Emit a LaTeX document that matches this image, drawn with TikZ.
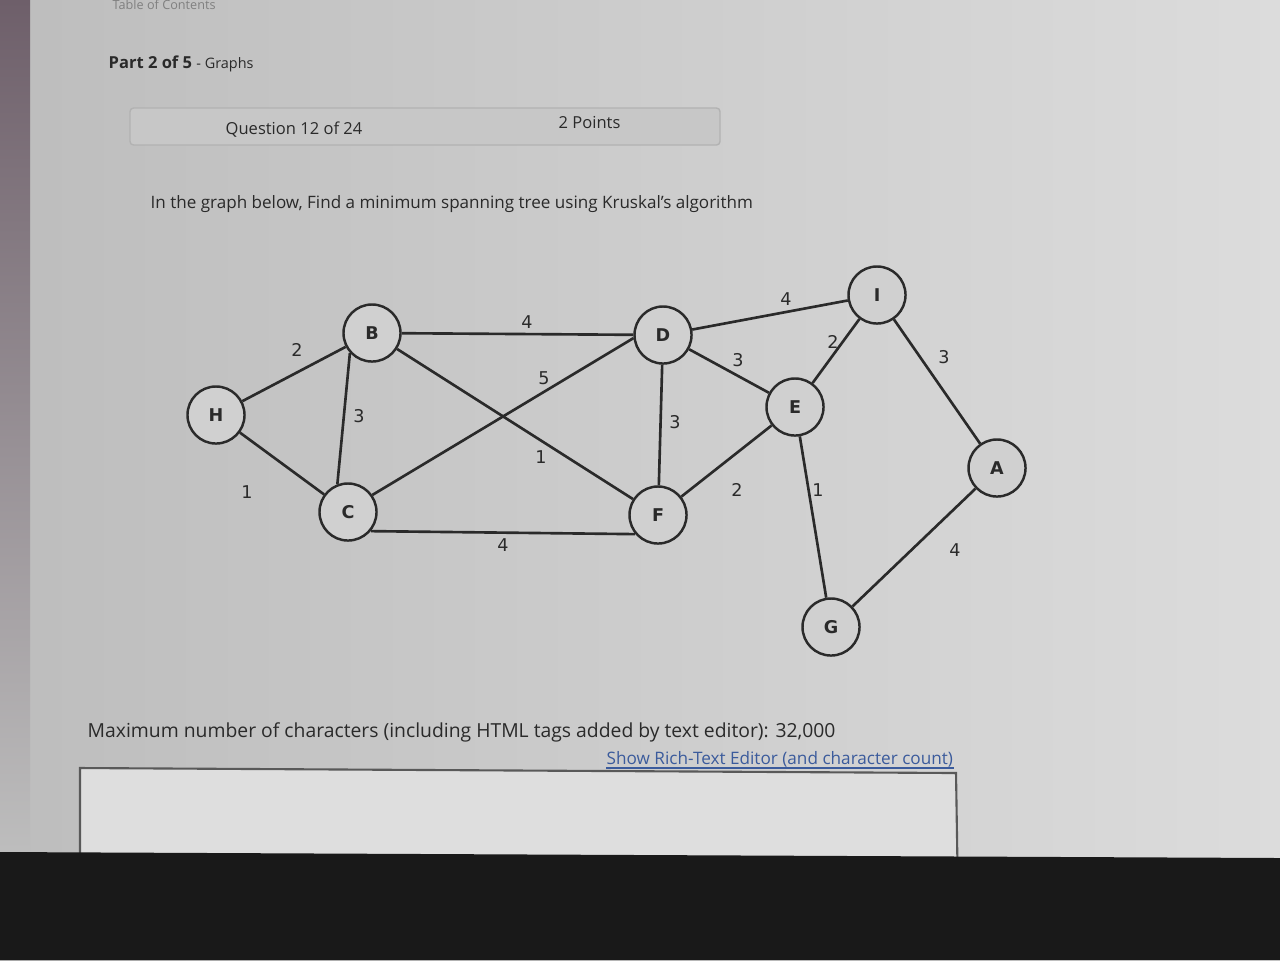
\documentclass[tikz,border=0pt]{standalone}
\usepackage{fontspec}
\setmainfont{Open Sans}
\newfontfamily\graphfont{DejaVu Sans}
\definecolor{screenL}{HTML}{BDBDBD}
\definecolor{screenR}{HTML}{DCDCDC}
\definecolor{screen}{HTML}{D0D0D0}
\definecolor{ink}{HTML}{2A2A2A}
\definecolor{linkblue}{HTML}{3B5B9C}
\definecolor{cloth}{HTML}{6E5F6A}
\tikzset{
  vertex/.style={circle,draw=ink,line width=0.7pt,fill=screen,minimum size=5.7mm,inner sep=0pt,
    font=\graphfont\bfseries\fontsize{5}{6}\selectfont,text=ink},
  weight/.style={font=\graphfont\fontsize{5}{6}\selectfont,inner sep=0pt,text=ink},
  edge/.style={draw=ink,line width=0.75pt},
  pagetext/.style={anchor=base west,inner sep=0pt,text=ink}
}
\begin{document}
\begin{tikzpicture}[x=0.01cm,y=-0.01cm]
    \useasboundingbox (0,0) rectangle (1280,960);
    % screen background
    \shade[left color=screenL,right color=screenR] (0,0) rectangle (1280,960);
    \shade[top color=cloth,bottom color=screenL] (0,0) rectangle (30,850);
    % header
    \node[pagetext,text=gray,font=\fontsize{3.6}{4}\selectfont] (toc) at (112,9) {Table of Contents};
    \node[pagetext,font=\fontsize{4.7}{5}\selectfont] (part) at (108,68)
        {\textbf{Part 2 of 5} {\fontsize{4.1}{4}\selectfont - Graphs}};
    \draw[fill=black!22,draw=black!30,rounded corners=1pt] (130,108) rectangle (720,145);
    \node[pagetext,font=\fontsize{4.7}{5}\selectfont] (qnum) at (225,134) {Question 12 of 24};
    \node[pagetext,font=\fontsize{4.7}{5}\selectfont] (pts) at (558,128) {2 Points};
    \node[pagetext,font=\fontsize{4.85}{5}\selectfont] (task) at (150,208)
        {In the graph below, Find a minimum spanning tree using Kruskal's algorithm};
    % vertices
    \node[vertex] (h) at (216,415) {H};
    \node[vertex] (b) at (372,333) {B};
    \node[vertex] (c) at (348,512) {C};
    \node[vertex] (d) at (663,335) {D};
    \node[vertex] (f) at (658,515) {F};
    \node[vertex] (e) at (795,407) {E};
    \node[vertex] (i) at (877,295) {I};
    \node[vertex] (a) at (997,468) {A};
    \node[vertex] (g) at (831,627) {G};
    % edges
    \draw[edge] (h) -- (b);
    \draw[edge] (h) -- (c);
    \draw[edge] (b.222) -- (c.111);
    \draw[edge] (b) -- (d);
    \draw[edge] (b) -- (f);
    \draw[edge] (c.35) -- (d.186);
    \draw[edge] (c.-40) -- (f.-140);
    \draw[edge] (d) -- (f);
    \draw[edge] (d) -- (e);
    \draw[edge] (d) -- (i);
    \draw[edge] (e) -- (i);
    \draw[edge] (e) -- (f);
    \draw[edge] (e) -- (g);
    \draw[edge] (i) -- (a);
    \draw[edge] (a) -- (g);
    % weights
    \node[weight] (whb) at (297,350) {2};
    \node[weight] (whc) at (247,492) {1};
    \node[weight] (wbc) at (359,416) {3};
    \node[weight] (wbd) at (527,322) {4};
    \node[weight] (wbf) at (541,457) {1};
    \node[weight] (wcd) at (544,378) {5};
    \node[weight] (wcf) at (503,545) {4};
    \node[weight] (wdf) at (675,422) {3};
    \node[weight] (wde) at (738,360) {3};
    \node[weight] (wdi) at (786,299) {4};
    \node[weight] (wei) at (833,342) {2};
    \node[weight] (wef) at (737,490) {2};
    \node[weight] (weg) at (818,490) {1};
    \node[weight] (wia) at (944,357) {3};
    \node[weight] (wag) at (955,550) {4};
    % answer box
    \node[pagetext,font=\fontsize{5.5}{6}\selectfont] (maxchars) at (87,737)
        {Maximum number of characters (including HTML tags added by text editor): 32,000};
    \node[pagetext,text=linkblue,font=\fontsize{4.88}{5}\selectfont] (rte) at (606,764)
        {Show Rich-Text Editor (and character count)};
    \draw[linkblue,line width=0.45pt] ([yshift=-1.2pt]rte.base west) -- ([yshift=-1.2pt]rte.base east);
    \draw[draw=black!65,fill=black!13,line width=0.6pt] (80,768) -- (956,773) -- (958,900) -- (80,900) -- cycle;
    \fill[black!90] (0,852) -- (1280,858) -- (1280,960) -- (0,960) -- cycle;
\end{tikzpicture}
\end{document}
